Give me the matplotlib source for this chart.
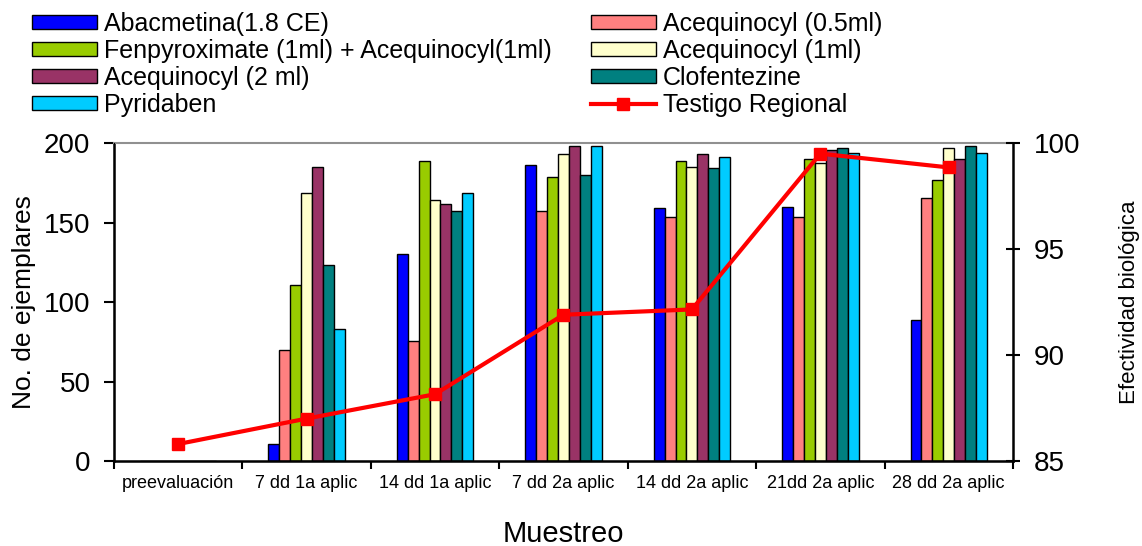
import numpy as np
import matplotlib
matplotlib.use("Agg")
import matplotlib.pyplot as plt

plt.rcParams['font.family'] = ['Liberation Sans', 'DejaVu Sans']

muestreos = ["preevaluación", "7 dd 1a aplic", "14 dd 1a aplic", "7 dd 2a aplic",
             "14 dd 2a aplic", "21dd 2a aplic", "28 dd 2a aplic"]

tratamientos = ["Abacmetina(1.8 CE)", "Acequinocyl (0.5ml)",
                "Fenpyroximate (1ml) + Acequinocyl(1ml)", "Acequinocyl (1ml)",
                "Acequinocyl (2 ml)", "Clofentezine", "Pyridaben"]
colores = ["#0000FF", "#FF8080", "#99CC00", "#FFFFCC", "#993366", "#008080", "#00CCFF"]

# ejemplares por tratamiento (una lista por tratamiento, un valor por muestreo)
abacmetina = [0, 10.5, 130.5, 186.5, 159, 160, 88.5]
aceq_05 = [0, 70, 75.5, 157.5, 153.5, 153.5, 165.5]
fenpyrox = [0, 110.5, 189, 178.5, 189, 190, 177]
aceq_1 = [0, 168.5, 164, 193, 185, 187.5, 197]
aceq_2 = [0, 185, 161.5, 198, 193, 195.5, 190]
clofent = [0, 123.5, 157.5, 180, 184, 197, 198]
pyridaben = [0, 83, 168.5, 198, 191.5, 194, 194]
series = [abacmetina, aceq_05, fenpyrox, aceq_1, aceq_2, clofent, pyridaben]

testigo = [85.8, 87.0, 88.15, 91.9, 92.15, 99.5, 98.85]

fig = plt.figure(figsize=(11.42, 5.46), dpi=100)
ax = fig.add_axes([0.0998, 0.1557, 0.7872, 0.5823])

x = np.arange(len(muestreos)) + 0.5
w = 0.085
for i, (vals, c) in enumerate(zip(series, colores)):
    ax.bar(x + (i - 3) * w, vals, w, color=c, edgecolor='black', linewidth=1.0,
           label=tratamientos[i])

ax.set_xlim(0, 7)
ax.set_ylim(0, 200)
ax.set_yticks([0, 50, 100, 150, 200])
ax.set_xticks(np.arange(8))
ax.set_xticklabels([])
ax.set_xticks(x, minor=True)
ax.set_xticklabels(muestreos, minor=True, fontsize=13)
ax.tick_params(axis='x', which='minor', length=0, pad=10)
ax.tick_params(axis='x', which='major', length=6, width=1.5, direction='out')
ax.tick_params(axis='y', length=7, width=1.5, direction='out', labelsize=20, pad=10)
for s in ['left', 'bottom']:
    ax.spines[s].set_linewidth(1.8)
ax.spines['top'].set_color('#909090')
ax.spines['top'].set_linewidth(1.5)
ax.spines['right'].set_visible(False)

ax.set_ylabel("No. de ejemplares", fontsize=19, labelpad=6)
ax.set_xlabel("Muestreo", fontsize=21, labelpad=20)

ax2 = ax.twinx()
ax2.plot(x, testigo, color='#FF0000', linewidth=3, marker='s', markersize=9,
         label="Testigo Regional")
ax2.set_ylim(85, 100)
ax2.set_yticks([85, 90, 95, 100])
ax2.tick_params(axis='y', length=10, width=1.5, direction='inout', labelsize=20, pad=10)
ax2.spines['right'].set_linewidth(1.8)
ax2.spines['top'].set_visible(False)
ax2.set_ylabel("Efectividad biológica", fontsize=16, labelpad=28)

h1, l1 = ax.get_legend_handles_labels()
h2, l2 = ax2.get_legend_handles_labels()
handles = [h1[0], h1[2], h1[4], h1[6], h1[1], h1[3], h1[5], h2[0]]
labels = [l1[0], l1[2], l1[4], l1[6], l1[1], l1[3], l1[5], l2[0]]
fig.legend(handles, labels, ncol=2, loc='upper left', bbox_to_anchor=(0.008, 1.019),
           frameon=False, fontsize=18, handlelength=2.6, handleheight=0.5,
           labelspacing=0.12, columnspacing=1.55, handletextpad=0.3)

fig.savefig("out.png", dpi=100)
